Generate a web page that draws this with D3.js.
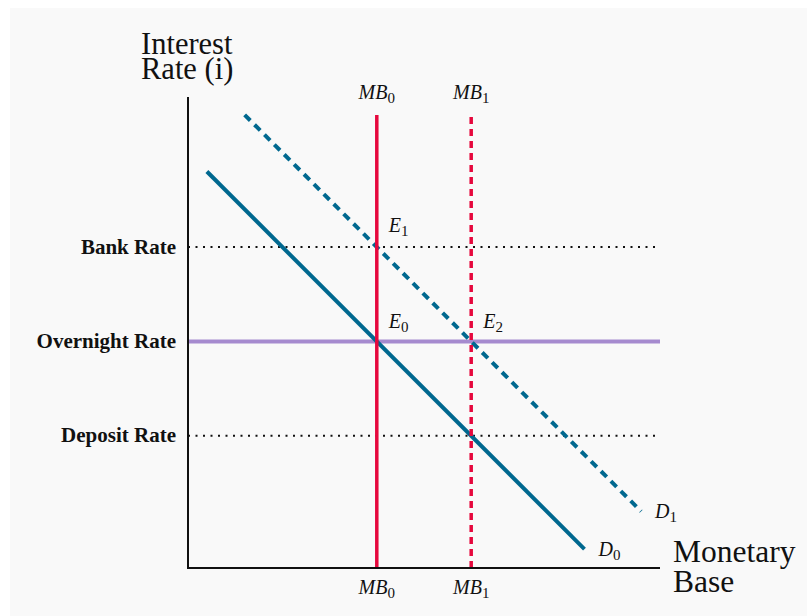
<!DOCTYPE html>
<html lang="en">
<head>
	<meta charset="UTF-8">
	<title>Monetary Base and Interest Rates</title>
	<style>
		body{margin:0;background:#fff;}
		text{font-family:"Liberation Serif","Times New Roman",serif;fill:#111;}
	</style>
</head>
<body>
</body>
<script src="https://cdnjs.cloudflare.com/ajax/libs/d3/7.8.5/d3.min.js"></script>
<script>
	// policy rates (interest rate units on the y axis)
	var rateNames=["Bank Rate","Overnight Rate","Deposit Rate"];
	var rateValues=[68,48,28];
	var rateStyles=["dotted","solid","dotted"];

	// monetary base supply positions
	var mbNames=["MB","MB"];
	var mbSubs=["0","1"];
	var mbValues=[40,60];
	var mbTop=96;

	// demand curves: start and end points
	var demandNames=["D","D"];
	var demandSubs=["0","1"];
	var demandX=[[4,84],[12,96]];
	var demandY=[[84,4],[96,12]];

	// equilibrium points
	var eqSubs=["1","0","2"];
	var eqX=[40,40,60];
	var eqY=[68,48,48];

	var width=807;
	var height=616;
	var blue="#00688f", red="#e6083d", purple="#a68bcf";

	var svg=d3.select('body')
				.append('svg')
				.attr('width',width)
				.attr('height',height);

	svg.append('rect')
		.attr('x',10).attr('y',8)
		.attr('width',width-10).attr('height',height-8)
		.attr('fill','#f9f9f9');

	var xScale=d3.scaleLinear().domain([0,100]).range([188,660]);
	var yScale=d3.scaleLinear().domain([0,100]).range([568,96]);

	// rate lines
	svg.selectAll('.rate')
		.data(rateValues)
		.enter()
		.append('line')
		.attr('class','rate')
		.attr('x1',xScale(0)).attr('x2',xScale(100))
		.attr('y1',function(d){return yScale(d);})
		.attr('y2',function(d){return yScale(d);})
		.attr('stroke',function(d,i){return rateStyles[i]=="solid"?purple:'#111';})
		.attr('stroke-width',function(d,i){return rateStyles[i]=="solid"?4:2;})
		.attr('stroke-dasharray',function(d,i){return rateStyles[i]=="solid"?null:'2,5.5';});

	svg.selectAll('.rateLabel')
		.data(rateValues)
		.enter()
		.append('text')
		.attr('class','rateLabel')
		.attr('x',176)
		.attr('y',function(d){return yScale(d)+6.5;})
		.attr('text-anchor','end')
		.attr('font-weight','bold')
		.attr('font-size',21)
		.text(function(d,i){return rateNames[i];});

	// demand curves
	svg.selectAll('.demand')
		.data(demandX)
		.enter()
		.append('line')
		.attr('class','demand')
		.attr('x1',function(d){return xScale(d[0]);})
		.attr('x2',function(d){return xScale(d[1]);})
		.attr('y1',function(d,i){return yScale(demandY[i][0]);})
		.attr('y2',function(d,i){return yScale(demandY[i][1]);})
		.attr('stroke',blue)
		.attr('stroke-width',4)
		.attr('stroke-dasharray',function(d,i){return i==1?'8,6':null;});

	// monetary base lines
	svg.selectAll('.mb')
		.data(mbValues)
		.enter()
		.append('line')
		.attr('class','mb')
		.attr('x1',function(d){return xScale(d);})
		.attr('x2',function(d){return xScale(d);})
		.attr('y1',yScale(0)).attr('y2',yScale(mbTop))
		.attr('stroke',red)
		.attr('stroke-width',3.5)
		.attr('stroke-dasharray',function(d,i){return i==1?'7,5':null;});

	// axes
	svg.append('line')
		.attr('x1',xScale(0)).attr('x2',xScale(0))
		.attr('y1',yScale(0)+1).attr('y2',yScale(100)+1)
		.attr('stroke','#111').attr('stroke-width',2);
	svg.append('line')
		.attr('x1',xScale(0)-1).attr('x2',xScale(100))
		.attr('y1',yScale(0)).attr('y2',yScale(0))
		.attr('stroke','#111').attr('stroke-width',2);

	function subLabel(sel,name,sub){
		sel.append('tspan').text(name);
		sel.append('tspan').attr('dy',4).attr('font-size',15).attr('font-style','normal').text(sub);
	}

	// MB labels top and bottom
	[99,594].forEach(function(ty){
		mbValues.forEach(function(d,i){
			var t=svg.append('text')
				.attr('x',xScale(d))
				.attr('y',ty)
				.attr('text-anchor','middle')
				.attr('font-size',20)
				.attr('font-style','italic');
			subLabel(t,mbNames[i],mbSubs[i]);
		});
	});

	// equilibrium labels
	eqX.forEach(function(d,i){
		var t=svg.append('text')
			.attr('x',xScale(d)+12)
			.attr('y',yScale(eqY[i])-(i==0?15:13))
			.attr('font-size',20)
			.attr('font-style','italic');
		subLabel(t,'E',eqSubs[i]);
	});

	// demand labels
	demandX.forEach(function(d,i){
		var t=svg.append('text')
			.attr('x',xScale(d[1])+14)
			.attr('y',yScale(demandY[i][1])+7)
			.attr('font-size',20)
			.attr('font-style','italic');
		subLabel(t,demandNames[i],demandSubs[i]);
	});

	// axis titles
	var yTitle=svg.append('text').attr('x',141).attr('y',54).attr('font-size',30.5);
	yTitle.append('tspan').attr('x',141).text('Interest');
	yTitle.append('tspan').attr('x',141).attr('dy',25).text('Rate (i)');

	var xTitle=svg.append('text').attr('x',673).attr('y',562).attr('font-size',31.5);
	xTitle.append('tspan').attr('x',673).text('Monetary');
	xTitle.append('tspan').attr('x',673).attr('dy',30).text('Base');
</script>
</html>
